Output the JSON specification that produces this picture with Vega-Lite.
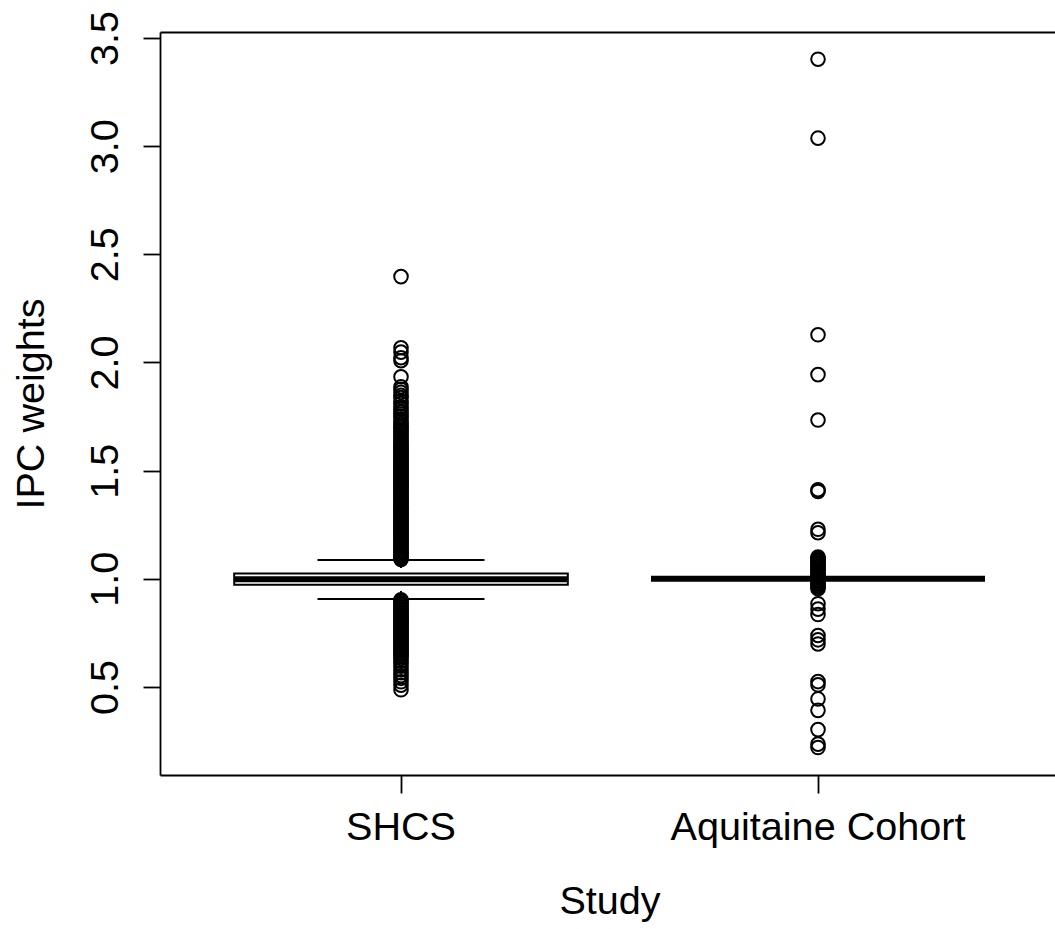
{
  "$schema": "https://vega.github.io/schema/vega-lite/v6.json",
  "width": 895,
  "height": 743,
  "autosize": {"type": "none"},
  "padding": {"left": 160, "top": 32, "right": 0, "bottom": 154},
  "background": "white",
  "config": {
    "view": {"stroke": null},
    "font": "Liberation Sans",
    "axis": {
      "labelFont": "Liberation Sans",
      "titleFont": "Liberation Sans",
      "labelColor": "black",
      "titleColor": "black",
      "domainColor": "black",
      "tickColor": "black",
      "grid": false,
      "labelFontSize": 39.6,
      "titleFontSize": 39.6,
      "titleFontWeight": "normal",
      "domainWidth": 1.8,
      "tickWidth": 1.8,
      "labelOverlap": false,
      "labelLimit": 2000,
      "titleLimit": 2000
    }
  },
  "datasets": {
    "summary": [
      {"study": "SHCS", "lower": 0.907, "q1": 0.973, "median": 0.998, "q3": 1.025, "upper": 1.087},
      {"study": "Aquitaine Cohort", "lower": 1.0, "q1": 1.0, "median": 1.0, "q3": 1.0, "upper": 1.0}
    ],
    "outliers": [
      {"study": "SHCS", "value": 2.397}, {"study": "SHCS", "value": 2.068}, {"study": "SHCS", "value": 2.048}, {"study": "SHCS", "value": 2.022}, {"study": "SHCS", "value": 2.008},
      {"study": "SHCS", "value": 1.934}, {"study": "SHCS", "value": 1.888}, {"study": "SHCS", "value": 1.876}, {"study": "SHCS", "value": 1.862}, {"study": "SHCS", "value": 1.848},
      {"study": "SHCS", "value": 1.838}, {"study": "SHCS", "value": 1.822}, {"study": "SHCS", "value": 1.810}, {"study": "SHCS", "value": 1.795}, {"study": "SHCS", "value": 1.785},
      {"study": "SHCS", "value": 1.772}, {"study": "SHCS", "value": 1.762}, {"study": "SHCS", "value": 1.750}, {"study": "SHCS", "value": 1.740}, {"study": "SHCS", "value": 1.728},
      {"study": "SHCS", "value": 1.718}, {"study": "SHCS", "value": 1.708}, {"study": "SHCS", "value": 1.700}, {"study": "SHCS", "value": 1.690}, {"study": "SHCS", "value": 1.682},
      {"study": "SHCS", "value": 1.672}, {"study": "SHCS", "value": 1.662}, {"study": "SHCS", "value": 1.652}, {"study": "SHCS", "value": 1.644}, {"study": "SHCS", "value": 1.636},
      {"study": "SHCS", "value": 1.628}, {"study": "SHCS", "value": 1.620}, {"study": "SHCS", "value": 1.613}, {"study": "SHCS", "value": 1.606}, {"study": "SHCS", "value": 1.599},
      {"study": "SHCS", "value": 1.592}, {"study": "SHCS", "value": 1.585}, {"study": "SHCS", "value": 1.578}, {"study": "SHCS", "value": 1.571}, {"study": "SHCS", "value": 1.564},
      {"study": "SHCS", "value": 1.557}, {"study": "SHCS", "value": 1.550}, {"study": "SHCS", "value": 1.543}, {"study": "SHCS", "value": 1.536}, {"study": "SHCS", "value": 1.529},
      {"study": "SHCS", "value": 1.522}, {"study": "SHCS", "value": 1.515}, {"study": "SHCS", "value": 1.508}, {"study": "SHCS", "value": 1.501}, {"study": "SHCS", "value": 1.494},
      {"study": "SHCS", "value": 1.487}, {"study": "SHCS", "value": 1.480}, {"study": "SHCS", "value": 1.473}, {"study": "SHCS", "value": 1.466}, {"study": "SHCS", "value": 1.459},
      {"study": "SHCS", "value": 1.452}, {"study": "SHCS", "value": 1.445}, {"study": "SHCS", "value": 1.438}, {"study": "SHCS", "value": 1.431}, {"study": "SHCS", "value": 1.424},
      {"study": "SHCS", "value": 1.417}, {"study": "SHCS", "value": 1.410}, {"study": "SHCS", "value": 1.403}, {"study": "SHCS", "value": 1.396}, {"study": "SHCS", "value": 1.389},
      {"study": "SHCS", "value": 1.382}, {"study": "SHCS", "value": 1.375}, {"study": "SHCS", "value": 1.368}, {"study": "SHCS", "value": 1.361}, {"study": "SHCS", "value": 1.354},
      {"study": "SHCS", "value": 1.347}, {"study": "SHCS", "value": 1.340}, {"study": "SHCS", "value": 1.333}, {"study": "SHCS", "value": 1.326}, {"study": "SHCS", "value": 1.319},
      {"study": "SHCS", "value": 1.312}, {"study": "SHCS", "value": 1.305}, {"study": "SHCS", "value": 1.298}, {"study": "SHCS", "value": 1.291}, {"study": "SHCS", "value": 1.284},
      {"study": "SHCS", "value": 1.277}, {"study": "SHCS", "value": 1.270}, {"study": "SHCS", "value": 1.263}, {"study": "SHCS", "value": 1.256}, {"study": "SHCS", "value": 1.249},
      {"study": "SHCS", "value": 1.242}, {"study": "SHCS", "value": 1.235}, {"study": "SHCS", "value": 1.228}, {"study": "SHCS", "value": 1.221}, {"study": "SHCS", "value": 1.214},
      {"study": "SHCS", "value": 1.207}, {"study": "SHCS", "value": 1.200}, {"study": "SHCS", "value": 1.193}, {"study": "SHCS", "value": 1.186}, {"study": "SHCS", "value": 1.179},
      {"study": "SHCS", "value": 1.172}, {"study": "SHCS", "value": 1.165}, {"study": "SHCS", "value": 1.158}, {"study": "SHCS", "value": 1.151}, {"study": "SHCS", "value": 1.144},
      {"study": "SHCS", "value": 1.137}, {"study": "SHCS", "value": 1.130}, {"study": "SHCS", "value": 1.123}, {"study": "SHCS", "value": 1.116}, {"study": "SHCS", "value": 1.109},
      {"study": "SHCS", "value": 1.102}, {"study": "SHCS", "value": 1.095}, {"study": "SHCS", "value": 1.089},
      {"study": "SHCS", "value": 0.903}, {"study": "SHCS", "value": 0.896}, {"study": "SHCS", "value": 0.889}, {"study": "SHCS", "value": 0.882}, {"study": "SHCS", "value": 0.875},
      {"study": "SHCS", "value": 0.868}, {"study": "SHCS", "value": 0.861}, {"study": "SHCS", "value": 0.854}, {"study": "SHCS", "value": 0.847}, {"study": "SHCS", "value": 0.840},
      {"study": "SHCS", "value": 0.833}, {"study": "SHCS", "value": 0.826}, {"study": "SHCS", "value": 0.819}, {"study": "SHCS", "value": 0.812}, {"study": "SHCS", "value": 0.805},
      {"study": "SHCS", "value": 0.798}, {"study": "SHCS", "value": 0.791}, {"study": "SHCS", "value": 0.784}, {"study": "SHCS", "value": 0.777}, {"study": "SHCS", "value": 0.770},
      {"study": "SHCS", "value": 0.763}, {"study": "SHCS", "value": 0.756}, {"study": "SHCS", "value": 0.749}, {"study": "SHCS", "value": 0.742}, {"study": "SHCS", "value": 0.735},
      {"study": "SHCS", "value": 0.728}, {"study": "SHCS", "value": 0.721}, {"study": "SHCS", "value": 0.714}, {"study": "SHCS", "value": 0.707}, {"study": "SHCS", "value": 0.700},
      {"study": "SHCS", "value": 0.693}, {"study": "SHCS", "value": 0.686}, {"study": "SHCS", "value": 0.679}, {"study": "SHCS", "value": 0.672}, {"study": "SHCS", "value": 0.665},
      {"study": "SHCS", "value": 0.658}, {"study": "SHCS", "value": 0.650}, {"study": "SHCS", "value": 0.641}, {"study": "SHCS", "value": 0.632}, {"study": "SHCS", "value": 0.620},
      {"study": "SHCS", "value": 0.608}, {"study": "SHCS", "value": 0.596}, {"study": "SHCS", "value": 0.580}, {"study": "SHCS", "value": 0.566}, {"study": "SHCS", "value": 0.552},
      {"study": "SHCS", "value": 0.540}, {"study": "SHCS", "value": 0.524}, {"study": "SHCS", "value": 0.508}, {"study": "SHCS", "value": 0.487},
      {"study": "Aquitaine Cohort", "value": 3.402}, {"study": "Aquitaine Cohort", "value": 3.037}, {"study": "Aquitaine Cohort", "value": 2.128}, {"study": "Aquitaine Cohort", "value": 1.944},
      {"study": "Aquitaine Cohort", "value": 1.734}, {"study": "Aquitaine Cohort", "value": 1.412}, {"study": "Aquitaine Cohort", "value": 1.404}, {"study": "Aquitaine Cohort", "value": 1.229},
      {"study": "Aquitaine Cohort", "value": 1.213}, {"study": "Aquitaine Cohort", "value": 1.101}, {"study": "Aquitaine Cohort", "value": 1.094}, {"study": "Aquitaine Cohort", "value": 1.087},
      {"study": "Aquitaine Cohort", "value": 1.080}, {"study": "Aquitaine Cohort", "value": 1.073}, {"study": "Aquitaine Cohort", "value": 1.066}, {"study": "Aquitaine Cohort", "value": 1.059},
      {"study": "Aquitaine Cohort", "value": 1.052}, {"study": "Aquitaine Cohort", "value": 1.045}, {"study": "Aquitaine Cohort", "value": 1.038}, {"study": "Aquitaine Cohort", "value": 1.031},
      {"study": "Aquitaine Cohort", "value": 1.024}, {"study": "Aquitaine Cohort", "value": 1.017}, {"study": "Aquitaine Cohort", "value": 1.010}, {"study": "Aquitaine Cohort", "value": 1.003},
      {"study": "Aquitaine Cohort", "value": 0.996}, {"study": "Aquitaine Cohort", "value": 0.989}, {"study": "Aquitaine Cohort", "value": 0.982}, {"study": "Aquitaine Cohort", "value": 0.975},
      {"study": "Aquitaine Cohort", "value": 0.968}, {"study": "Aquitaine Cohort", "value": 0.961}, {"study": "Aquitaine Cohort", "value": 0.954}, {"study": "Aquitaine Cohort", "value": 0.885},
      {"study": "Aquitaine Cohort", "value": 0.860}, {"study": "Aquitaine Cohort", "value": 0.835}, {"study": "Aquitaine Cohort", "value": 0.738}, {"study": "Aquitaine Cohort", "value": 0.718},
      {"study": "Aquitaine Cohort", "value": 0.699}, {"study": "Aquitaine Cohort", "value": 0.525}, {"study": "Aquitaine Cohort", "value": 0.510}, {"study": "Aquitaine Cohort", "value": 0.445},
      {"study": "Aquitaine Cohort", "value": 0.392}, {"study": "Aquitaine Cohort", "value": 0.303}, {"study": "Aquitaine Cohort", "value": 0.236}, {"study": "Aquitaine Cohort", "value": 0.220}
    ]
  },
  "resolve": {"axis": {"x": "independent"}},
  "layer": [
    {
      "data": {"name": "summary"},
      "mark": {"type": "bar", "fill": "white", "stroke": "black", "strokeWidth": 2},
      "encoding": {
        "x": {
          "field": "study", "type": "nominal", "sort": null,
          "scale": {"type": "band", "domain": ["SHCS", "Aquitaine Cohort"], "paddingInner": 0.2, "paddingOuter": 0.17314, "align": 0.5139, "round": false},
          "axis": {"orient": "bottom", "title": "Study", "labelAngle": 0, "tickSize": 18, "labelPadding": 46, "labelBaseline": "alphabetic", "labelAlign": "center", "titleX": 449.5, "titleY": 138, "titleAlign": "center", "titleBaseline": "alphabetic"}
        },
        "y": {
          "field": "q1", "type": "quantitative", "title": "IPC weights",
          "scale": {"domain": [0.0932, 3.5277], "nice": false, "zero": false},
          "axis": {"orient": "left", "values": [0.5, 1.0, 1.5, 2.0, 2.5, 3.0, 3.5], "format": ".1f", "labelAngle": -90, "labelAlign": "center", "labelBaseline": "alphabetic", "tickSize": 17, "labelPadding": 26, "titleAngle": -90, "titleAlign": "center", "titleBaseline": "alphabetic", "titleX": -117, "titleY": 371.5}
        },
        "y2": {"field": "q3"}
      }
    },
    {
      "data": {"name": "summary"},
      "mark": {"type": "rule", "stroke": "black", "strokeWidth": 2, "strokeDash": [8, 8]},
      "encoding": {
        "x": {"field": "study", "type": "nominal", "sort": null, "axis": null},
        "y": {"field": "upper", "type": "quantitative", "title": "IPC weights"},
        "y2": {"field": "q3"}
      }
    },
    {
      "data": {"name": "summary"},
      "mark": {"type": "rule", "stroke": "black", "strokeWidth": 2, "strokeDash": [8, 8]},
      "encoding": {
        "x": {"field": "study", "type": "nominal", "sort": null, "axis": null},
        "y": {"field": "lower", "type": "quantitative", "title": "IPC weights"},
        "y2": {"field": "q1"}
      }
    },
    {
      "data": {"name": "summary"},
      "mark": {"type": "tick", "color": "black", "size": 167, "thickness": 2, "opacity": 1},
      "encoding": {
        "x": {"field": "study", "type": "nominal", "sort": null, "axis": null},
        "y": {"field": "upper", "type": "quantitative", "title": "IPC weights"}
      }
    },
    {
      "data": {"name": "summary"},
      "mark": {"type": "tick", "color": "black", "size": 167, "thickness": 2, "opacity": 1},
      "encoding": {
        "x": {"field": "study", "type": "nominal", "sort": null, "axis": null},
        "y": {"field": "lower", "type": "quantitative", "title": "IPC weights"}
      }
    },
    {
      "data": {"name": "summary"},
      "mark": {"type": "tick", "color": "black", "size": 334, "thickness": 6, "opacity": 1},
      "encoding": {
        "x": {"field": "study", "type": "nominal", "sort": null, "axis": {"orient": "top", "labels": false, "ticks": false, "domain": true, "title": null}},
        "y": {"field": "median", "type": "quantitative", "title": "IPC weights"}
      }
    },
    {
      "data": {"name": "outliers"},
      "mark": {"type": "point", "shape": "circle", "filled": false, "stroke": "black", "strokeWidth": 2, "size": 185, "opacity": 1},
      "encoding": {
        "x": {"field": "study", "type": "nominal", "sort": null, "axis": null},
        "y": {"field": "value", "type": "quantitative", "title": "IPC weights"}
      }
    }
  ]
}
